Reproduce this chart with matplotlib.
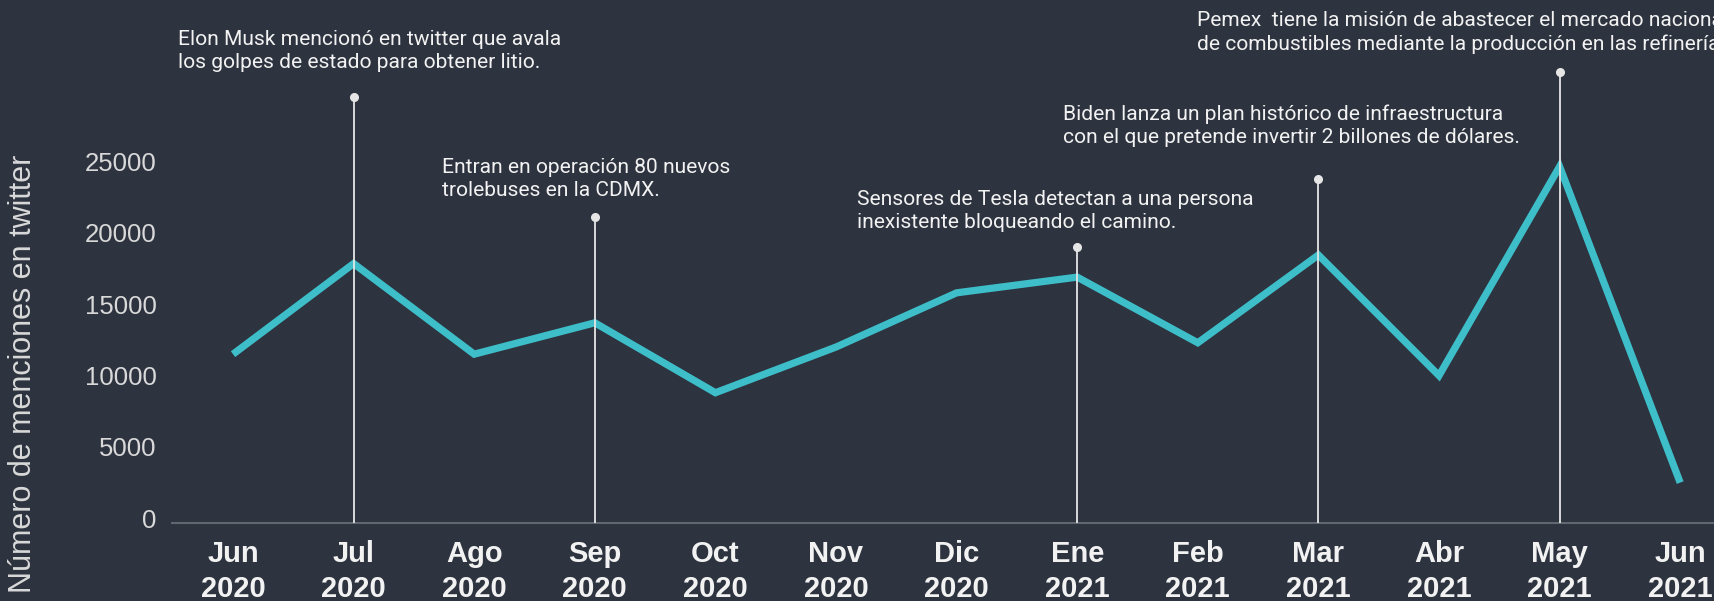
import matplotlib
matplotlib.use("Agg")
import matplotlib.pyplot as plt

# ---- data ----
months = ["Jun\n2020", "Jul\n2020", "Ago\n2020", "Sep\n2020", "Oct\n2020", "Nov\n2020",
          "Dic\n2020", "Ene\n2021", "Feb\n2021", "Mar\n2021", "Abr\n2021", "May\n2021",
          "Jun\n2021"]
mentions = [11500, 17850, 11500, 13700, 8800, 12000, 15800, 16900, 12300, 18450, 10000, 24650, 2500]

event_index = [1, 3, 7, 9, 11]
event_height = [29500, 21100, 19000, 23800, 31300]
event_text = [
    "Elon Musk mencionó en twitter que avala\nlos golpes de estado para obtener litio.",
    "Entran en operación 80 nuevos\ntrolebuses en la CDMX.",
    "Sensores de Tesla detectan a una persona\ninexistente bloqueando el camino.",
    "Biden lanza un plan histórico de infraestructura\ncon el que pretende invertir 2 billones de dólares.",
    "Pemex  tiene la misión de abastecer el mercado nacional\nde combustibles mediante la producción en las refinerías.",
]
text_x = [-0.455, 1.73, 5.17, 6.88, 7.99]
text_y = [32760, 23780, 21530, 27500, 34060]

yticks = [0, 5000, 10000, 15000, 20000, 25000]

# ---- style ----
BG = "#2d333f"
LINE = "#3dbec8"
W, H = 1715, 601

fig = plt.figure(figsize=(W / 100, H / 100), dpi=100, facecolor=BG)
left_px, bottom_px = 172, 523
ax = fig.add_axes([left_px / W, (H - bottom_px) / H, (W - left_px) / W, bottom_px / H])
ax.set_facecolor(BG)

x = list(range(len(months)))
ax.plot(x, mentions, color=LINE, lw=5.2, solid_joinstyle="miter", solid_capstyle="butt", zorder=2)

ymin = -330
for i, h in zip(event_index, event_height):
    ax.plot([i, i], [ymin, h], color="#e6e6e6", lw=1.3, zorder=3)
    ax.plot([i], [h], "o", color="#e6e6e6", ms=5.5, zorder=4)

for tx, ty, t in zip(text_x, text_y, event_text):
    ax.text(tx, ty, t, ha="left", va="center", color="#f2f2f2", fontsize=15.1,
            family="Roboto", linespacing=1.3, zorder=5)

ax.set_xlim(-0.506, (W - 233) / 120.6)
ax.set_ylim(ymin, 36320)

ax.set_xticks(x)
ax.set_xticklabels(months, family="Liberation Sans", fontweight="bold", fontsize=21,
                   color="#f2f2f2", linespacing=1.3)
ax.set_yticks(yticks)
ax.set_yticklabels([str(v) for v in yticks], family="Liberation Sans", fontsize=18.5,
                   color="#d9d9d9")
ax.tick_params(axis="x", length=0, pad=12.5)
ax.tick_params(axis="y", length=0, pad=11)

for s in ["top", "right", "left"]:
    ax.spines[s].set_visible(False)
ax.spines["bottom"].set_color("#62666e")
ax.spines["bottom"].set_linewidth(1.5)

fig.text(23 / W, 1 - 374 / H, "Número de menciones en twitter", rotation=90,
         ha="center", va="center", family="Liberation Sans", fontsize=22, color="#d9d9d9")

fig.savefig("out.png", dpi=100, facecolor=BG)
